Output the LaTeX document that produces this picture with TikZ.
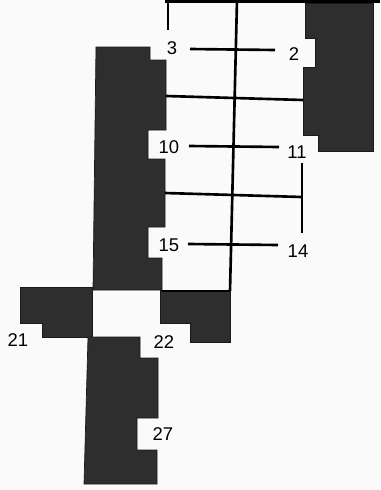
\documentclass[tikz,border=0pt]{standalone}
\usepackage{fontspec}
\setmainfont{Liberation Sans}
\begin{document}
\begin{tikzpicture}[x=0.02cm,y=-0.02cm,
  blk/.style={fill=black!82,draw=black!90,line width=0.4pt},
  ln/.style={draw=black,line width=1.5pt},
  lbl/.style={font=\fontsize{10.5}{12}\selectfont,inner sep=1pt}]
\useasboundingbox[fill=black!2] (0,0) rectangle (380,490);
% dark blocks
\path[blk] (305,3) -- (373,3) -- (373,151) -- (318,151) -- (318,135) -- (303,135) -- (303,67) -- (315,67) -- (315,38) -- (305,38) -- cycle;
\path[blk] (96,47) -- (150,47) -- (150,60) -- (166,60) -- (166,130) -- (148,130) -- (148,159) -- (165,159) -- (165,227) -- (148,227) -- (148,258) -- (162,258) -- (162,290) -- (93,290) -- cycle;
\path[blk] (20,287) -- (92,287) -- (92,337) -- (42,337) -- (42,323) -- (20,323) -- cycle;
\path[blk] (160,290) -- (230,290) -- (230,342) -- (190,342) -- (190,323) -- (160,323) -- cycle;
\path[blk] (88,337) -- (140,337) -- (140,358) -- (158,358) -- (158,418) -- (137,418) -- (137,450) -- (157,450) -- (157,484) -- (84,484) -- cycle;
% grid lines
\coordinate (tl) at (165,1.5); \coordinate (tr) at (380,1.5);
\draw[ln,line width=2pt] (tl) -- (tr);
\coordinate (va) at (168,0); \coordinate (vb) at (168,30);
\draw[ln] (va) -- (vb);
\coordinate (ca) at (237,0); \coordinate (cb) at (230,291);
\draw[ln] (ca) -- (cb);
\coordinate (h1a) at (166,96); \coordinate (h1b) at (303,100);
\draw[ln] (h1a) -- (h1b);
\coordinate (h2a) at (165,193); \coordinate (h2b) at (302,197);
\draw[ln] (h2a) -- (h2b);
\coordinate (v2a) at (302,163); \coordinate (v2b) at (302,233);
\draw[ln] (v2a) -- (v2b);
\coordinate (bl) at (162,291);
\draw[ln] (bl) -- (cb);
% labels
\node[lbl] (n3) at (172,48) {3};
\node[lbl] (n2) at (294,54) {2};
\node[lbl] (n10) at (169,147) {10};
\node[lbl] (n11) at (297,152) {11};
\node[lbl] (n15) at (169,245) {15};
\node[lbl] (n14) at (298,251) {14};
\node[lbl] (n21) at (18,340) {21};
\node[lbl] (n22) at (164,342) {22};
\node[lbl] (n27) at (163,434) {27};
% leader lines
\coordinate (l3) at (190,49); \coordinate (l2) at (275,50);
\draw[ln] (l3) -- (l2);
\coordinate (l10) at (189,146); \coordinate (l11) at (279,147);
\draw[ln] (l10) -- (l11);
\coordinate (l15) at (188,244); \coordinate (l14) at (278,245);
\draw[ln] (l15) -- (l14);
\end{tikzpicture}
\end{document}
